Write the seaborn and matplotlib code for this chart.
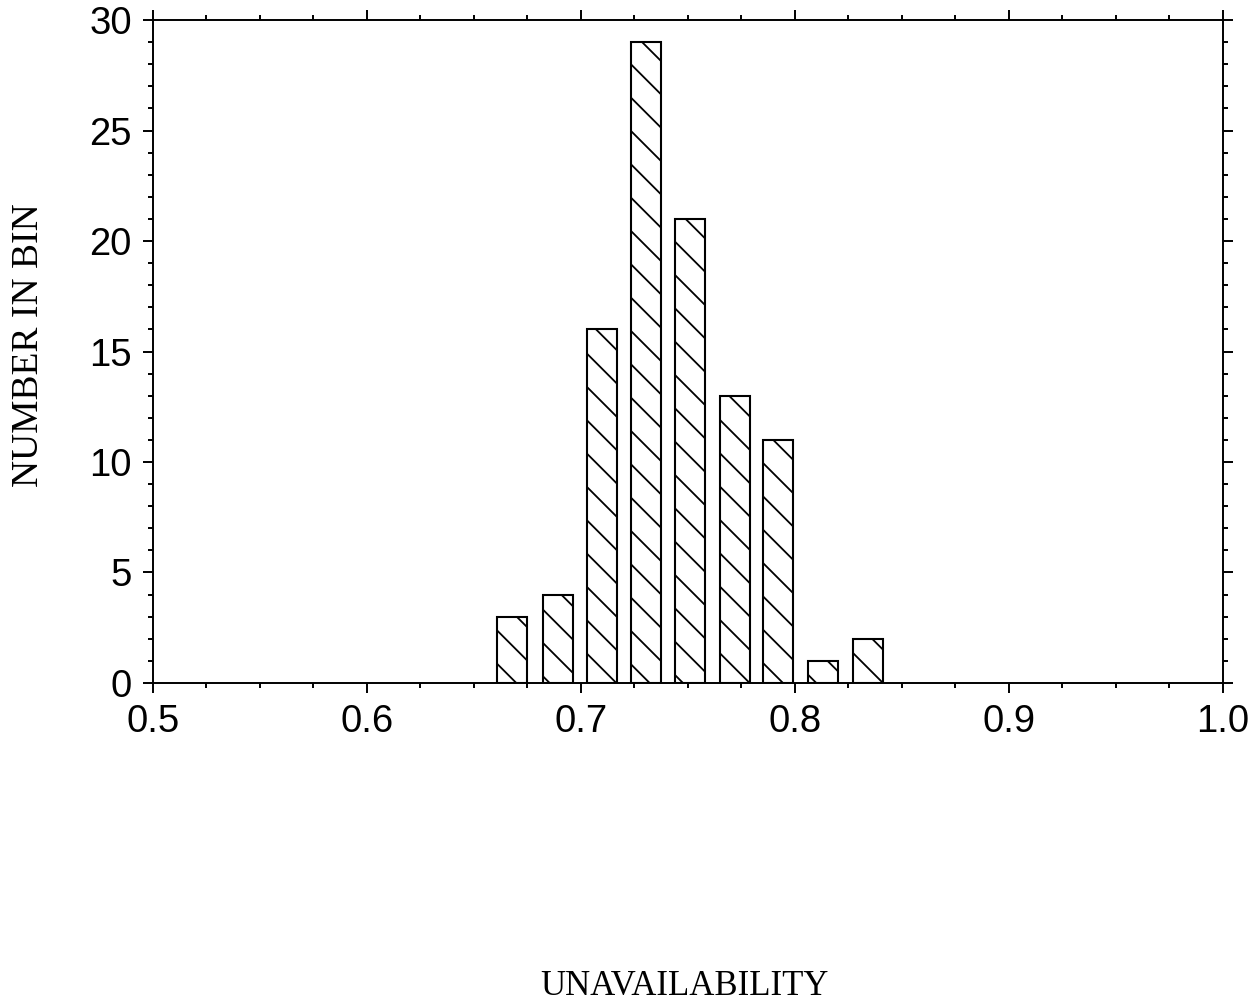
import matplotlib
matplotlib.use("Agg")
import matplotlib.pyplot as plt
from matplotlib.ticker import MultipleLocator
import seaborn as sns
import pandas as pd

# Histogram of sampled unavailability values
bin_centers = [0.668, 0.6895, 0.710, 0.7305, 0.751, 0.772, 0.792, 0.813, 0.834]
counts = [3, 4, 16, 29, 21, 13, 11, 1, 2]
x_ticks = [0.5, 0.6, 0.7, 0.8, 0.9, 1.0]
x_tick_labels = ["0.5", "0.6", "0.7", "0.8", "0.9", "1.0"]
y_ticks = [0, 5, 10, 15, 20, 25, 30]

sns.set_style("ticks")
plt.rcParams["font.family"] = ["Liberation Sans", "DejaVu Sans"]
plt.rcParams["hatch.linewidth"] = 1.3
plt.rcParams["hatch.color"] = "black"
for key in ["text.color", "axes.labelcolor", "xtick.color", "ytick.color",
            "axes.edgecolor"]:
    plt.rcParams[key] = "black"

df = pd.DataFrame({"unavailability": bin_centers, "count": counts})

fig = plt.figure(figsize=(12.6, 10.01), dpi=100)
ax = fig.add_axes([0.1212, 0.3177, 0.9706 - 0.1212, 0.98 - 0.3177])

sns.barplot(data=df, x="unavailability", y="count", native_scale=True,
            width=0.7, color="white", edgecolor="black", linewidth=1.5,
            hatch="\\", ax=ax, errorbar=None)

ax.set_xlim(0.5, 1.0)
ax.set_ylim(0, 30)
ax.set_xticks(x_ticks)
ax.set_xticklabels(x_tick_labels)
ax.set_yticks(y_ticks)
ax.xaxis.set_minor_locator(MultipleLocator(0.025))
ax.yaxis.set_minor_locator(MultipleLocator(1))

for side in ["top", "right", "bottom", "left"]:
    ax.spines[side].set_visible(True)
    ax.spines[side].set_linewidth(1.4)
    ax.spines[side].set_color("black")

ax.tick_params(which="both", direction="out", top=True, right=True,
               labeltop=False, labelright=False, color="black", width=1.4,
               labelcolor="black")
ax.tick_params(which="major", length=7, labelsize=27.5, pad=8)
ax.tick_params(which="minor", length=3.5)

ax.set_xlabel("UNAVAILABILITY", fontsize=25, family=["Liberation Serif"],
              color="black")
ax.set_ylabel("NUMBER IN BIN", fontsize=27, family=["Liberation Serif"],
              color="black")
ax.xaxis.set_label_coords(0.4964, -0.433)
ax.yaxis.set_label_coords(-0.100, 0.51)

fig.savefig("out.png", dpi=100, facecolor="white")
